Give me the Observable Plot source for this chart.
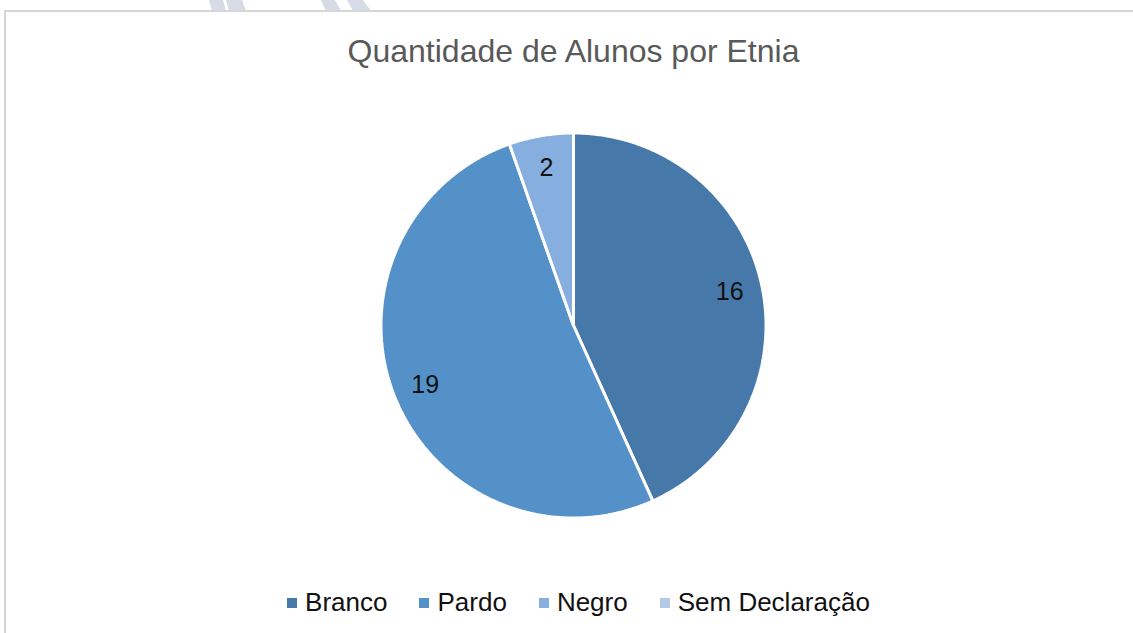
<!DOCTYPE html>
<html>
<head>
<meta charset="utf-8">
<script src="https://cdn.jsdelivr.net/npm/d3@7"></script>
<script src="https://cdn.jsdelivr.net/npm/@observablehq/plot@0.6"></script>
<style>
  html, body { margin: 0; padding: 0; background: #fff; }
  body { width: 1133px; height: 633px; position: relative; overflow: hidden; font-family: "Liberation Sans", Arial, sans-serif; }
  .wm { position: absolute; top: 0; height: 11px; background: #d6dbe6; }
  #frame { position: absolute; left: 4px; top: 10px; width: 1200px; height: 700px; border: 2px solid #d6d6d6; background: #fff; box-sizing: border-box; }
  #chart { position: absolute; left: 0; top: 0; }
  #title { position: absolute; left: 0; top: 35px; width: 1147px; text-align: center; font-size: 32px; line-height: 32px; color: #595959; white-space: nowrap; }
  #legend { position: absolute; left: 0; top: 589px; width: 1157px; display: flex; justify-content: center; font-size: 26px; line-height: 26px; color: #111; white-space: nowrap; }
  .item { display: flex; align-items: center; margin: 0 16px; }
  .sw { width: 10px; height: 10px; margin-right: 8px; margin-top: 2px; }
</style>
</head>
<body>
<div class="wm" style="left:0;width:1133px;background:none"></div>
<div class="wm" style="left:209px;width:17px;clip-path:polygon(0 0,14px 0,17px 100%,3px 100%)"></div>
<div class="wm" style="left:226px;width:20px;clip-path:polygon(0 0,16px 0,20px 100%,3px 100%)"></div>
<div class="wm" style="left:321px;width:20px;clip-path:polygon(0 0,14px 0,20px 100%,5px 100%)"></div>
<div class="wm" style="left:347px;width:24px;clip-path:polygon(0 0,16px 0,24px 100%,6px 100%)"></div>
<div id="frame"></div>
<div id="chart"></div>
<div id="title"></div>
<div id="legend"></div>
<script>
// ---- data ----
const categories = ["Branco", "Pardo", "Negro", "Sem Declaração"];
const values = [16, 19, 2, 0];
const colors = ["#4679aa", "#5591c9", "#86aede", "#b4cbe8"];
const titleText = "Quantidade de Alunos por Etnia";

// ---- layout constants ----
const W = 1133, H = 633, CX = 573, CY = 325, R = 192.5;
const labelRadius = 0.83;

const rows = categories.map((name, i) => ({name, value: values[i]}));
const arcs = d3.pie().sort(null).value(d => d.value)(rows);

const pts = [];
const labels = [];
arcs.forEach(a => {
  if (a.data.value <= 0) return;
  const name = a.data.name;
  pts.push({name, x: 0, y: 0});
  const n = Math.max(2, Math.ceil((a.endAngle - a.startAngle) / (Math.PI / 360)));
  for (let k = 0; k <= n; k++) {
    const t = a.startAngle + (a.endAngle - a.startAngle) * k / n;
    pts.push({name, x: Math.sin(t), y: Math.cos(t)});
  }
  const m = (a.startAngle + a.endAngle) / 2;
  labels.push({name, value: a.data.value, x: labelRadius * Math.sin(m), y: labelRadius * Math.cos(m)});
});

const chart = Plot.plot({
  width: W,
  height: H,
  margin: 0,
  style: {background: "transparent", overflow: "visible", fontFamily: "Liberation Sans, Arial, sans-serif"},
  x: {domain: [-CX / R, (W - CX) / R], range: [0, W], axis: null},
  y: {domain: [-(H - CY) / R, CY / R], range: [H, 0], axis: null},
  color: {domain: categories, range: colors},
  marks: [
    Plot.line(pts, {x: "x", y: "y", z: "name", fill: "name", stroke: "white", strokeWidth: 3, curve: "linear-closed", strokeLinejoin: "miter"}),
    Plot.text(labels, {x: "x", y: "y", text: d => String(d.value), fill: "#111", fontSize: 25})
  ]
});
document.getElementById("chart").appendChild(chart);

document.getElementById("title").textContent = titleText;

const legend = document.getElementById("legend");
categories.forEach((c, i) => {
  const item = document.createElement("div");
  item.className = "item";
  const sw = document.createElement("span");
  sw.className = "sw";
  sw.style.background = chart.scale("color").apply(c);
  const tx = document.createElement("span");
  tx.textContent = c;
  item.appendChild(sw);
  item.appendChild(tx);
  legend.appendChild(item);
});
</script>
</body>
</html>
